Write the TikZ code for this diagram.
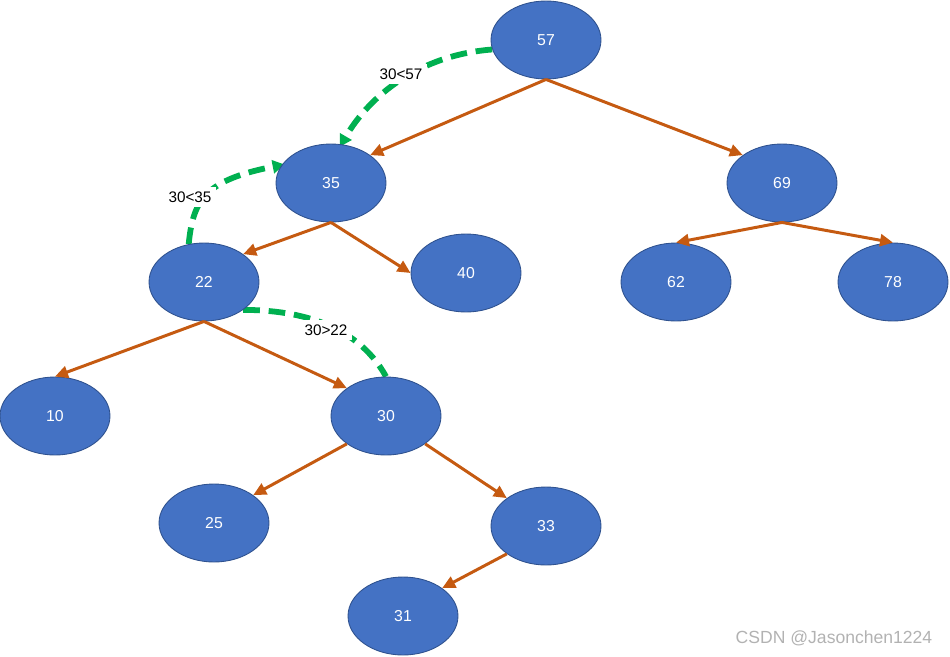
\documentclass[tikz,border=0pt]{standalone}
\usepackage{fontspec}
\setmainfont{Liberation Sans}
\usepackage{tikz}
\usetikzlibrary{arrows.meta,backgrounds,shapes.geometric}
\definecolor{NodeBlue}{RGB}{68,114,196}
\definecolor{NodeEdge}{RGB}{47,82,143}
\definecolor{EdgeOrange}{RGB}{197,90,17}
\definecolor{SearchGreen}{RGB}{0,176,80}
\tikzset{
  keynode/.style={ellipse, draw=NodeEdge, line width=0.5pt, fill=NodeBlue, text=white,
    minimum width=2.2cm, minimum height=1.56cm, inner sep=0pt, font=\fontsize{9}{11}\selectfont},
  cmp/.style={fill=white, inner sep=2.5pt, font=\fontsize{8.7}{10}\selectfont},
  treearrow/.style={-{Triangle[length=2.6mm, width=2.4mm]}, line width=1.7pt, draw=EdgeOrange},
  searcharrow/.style={line width=3.3pt, draw=SearchGreen, dash pattern=on 9.5pt off 5pt}
}

\begin{document}
\begin{tikzpicture}[x=0.02cm, y=-0.02cm]
  \useasboundingbox (0,0) rectangle (950,656);
  % tree
  \node[keynode] (n57) at (546,40) {57};
  \node[keynode] (n35) at (331,183) {35};
  \node[keynode] (n69) at (782,183) {69};
  \node[keynode] (n22) at (204,282) {22};
  \node[keynode] (n40) at (466,273) {40};
  \node[keynode] (n62) at (676,282) {62};
  \node[keynode] (n78) at (893,282) {78};
  \node[keynode] (n10) at (55,416) {10};
  \node[keynode] (n30) at (386,416) {30};
  \node[keynode] (n25) at (214,523) {25};
  \node[keynode] (n33) at (546,526) {33};
  \node[keynode] (n31) at (403,616) {31};
  \draw[treearrow] (n57.south) -- (n35.north east);
  \draw[treearrow] (n57.south) -- (n69.north west);
  \draw[treearrow] (n35.south) -- (n22.north east);
  \draw[treearrow] (n35.south) -- (n40.west);
  \draw[treearrow] (n69.south) -- (n62.north);
  \draw[treearrow] (n69.south) -- (n78.north);
  \draw[treearrow] (n22.south) -- (n10.north);
  \draw[treearrow] (n22.south) -- (n30.north west);
  \draw[treearrow] (n30.south west) -- (n25.north east);
  \draw[treearrow] (n30.south east) -- (n33.north west);
  \draw[treearrow] (n33.south west) -- (n31.north east);
  % search path for 30
  \node[cmp] (c57) at (401,74) {30<57};
  \node[cmp] (c35) at (190,197) {30<35};
  \node[cmp] (c22) at (326,330) {30>22};
  \begin{pgfonlayer}{background}
    \draw[searcharrow, -{Triangle[length=2.4mm, width=2.6mm]}, shorten >=-0.06cm] (n57.190) .. controls (420,55) and (370,95) .. (n35.75);
    \draw[searcharrow, -{Triangle[length=2.4mm, width=2.6mm]}, shorten >=-0.06cm] (n22.112) .. controls (193,200) and (205,180) .. (n35.160);
    \draw[searcharrow] (n22.south east) .. controls (290,310) and (355,320) .. (n30.north);
  \end{pgfonlayer}
  \node[text=gray!60, font=\fontsize{10}{12}\selectfont] (wm) at (834,638) {CSDN @Jasonchen1224};
\end{tikzpicture}
\end{document}
